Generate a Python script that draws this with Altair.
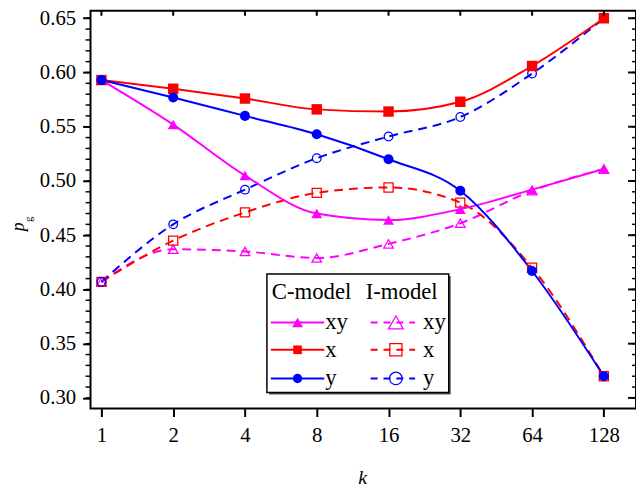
import altair as alt
import pandas as pd

# ---- data ----
k = [1, 2, 4, 8, 16, 32, 64, 128]
c_xy = [0.593, 0.552, 0.505, 0.470, 0.464, 0.474, 0.492, 0.511]
c_x = [0.593, 0.585, 0.576, 0.566, 0.564, 0.573, 0.606, 0.650]
c_y = [0.593, 0.577, 0.560, 0.543, 0.520, 0.491, 0.417, 0.320]
i_xy = [0.407, 0.437, 0.435, 0.429, 0.442, 0.461, 0.491, 0.511]
i_x = [0.407, 0.445, 0.471, 0.489, 0.494, 0.480, 0.420, 0.320]
i_y = [0.407, 0.460, 0.492, 0.521, 0.541, 0.559, 0.599, 0.650]
y_major = [0.30, 0.35, 0.40, 0.45, 0.50, 0.55, 0.60, 0.65]
y_minor = [round(0.30 + 0.01 * i, 2) for i in range(36)]

series_names = ["C-xy", "C-x", "C-y", "I-xy", "I-x", "I-y"]
series_vals = [c_xy, c_x, c_y, i_xy, i_x, i_y]

rows = []
for name, vals in zip(series_names, series_vals):
    for kk, v in zip(k, vals):
        rows.append({"k": kk, "v": v, "series": name, "model": name[0]})
df = pd.DataFrame(rows)

W, H = 552, 402.5
FONT = "Times New Roman, Liberation Serif, serif"
MAG, RED, BLUE = "#FF00FF", "#FF0000", "#0000FF"

xs = alt.Scale(type="log", base=2, domain=[0.9, 174.6])
ys = alt.Scale(domain=[0.29016, 0.65683])
color_scale = alt.Scale(domain=series_names, range=[MAG, RED, BLUE, MAG, RED, BLUE])
shape_scale = alt.Scale(domain=series_names,
                        range=["triangle-up", "square", "circle"] * 2)
size_scale = alt.Scale(domain=series_names, range=[121, 76, 90, 225, 151, 161])

X = alt.X("k:Q", scale=xs,
          axis=alt.Axis(values=k, format="d", tickSize=8, labelPadding=8,
                        title=None))
Y = alt.Y("v:Q", scale=ys,
          axis=alt.Axis(values=y_major, format=".2f", tickSize=8,
                        labelPadding=7, title=None))
COL = alt.Color("series:N", scale=color_scale, legend=None)
SHP = alt.Shape("series:N", scale=shape_scale, legend=None)
SZ = alt.Size("series:O", scale=size_scale, legend=None)

base = alt.Chart(df)
i_lines = base.transform_filter("datum.model == 'I'").mark_line(
    interpolate="monotone", strokeWidth=2, strokeDash=[9, 6]
).encode(x=X, y=Y, color=COL, detail="series:N")
c_lines = base.transform_filter("datum.model == 'C'").mark_line(
    interpolate="monotone", strokeWidth=2
).encode(x=X, y=Y, color=COL, detail="series:N")
i_pts = base.transform_filter("datum.model == 'I'").mark_point(
    filled=False, strokeWidth=1.3, opacity=1
).encode(x=X, y=Y, color=COL, shape=SHP, size=SZ)
c_pts = base.transform_filter("datum.model == 'C'").mark_point(
    filled=True, opacity=1
).encode(x=X, y=Y, color=COL, shape=SHP, size=SZ)

# ---- extra ticks (minor / mirrored inward) ----
minor_df = pd.DataFrame({"m": y_minor})
major_df = pd.DataFrame({"m": y_major})
kdf = pd.DataFrame({"k": k})
left_minor = alt.Chart(minor_df).mark_rule(color="black", strokeWidth=1.5).encode(
    y=alt.Y("m:Q", scale=ys), x=alt.value(-5), x2=alt.value(0))
right_minor = alt.Chart(minor_df).mark_rule(color="black", strokeWidth=1.5).encode(
    y=alt.Y("m:Q", scale=ys), x=alt.value(W - 4), x2=alt.value(W))
right_major = alt.Chart(major_df).mark_rule(color="black", strokeWidth=2).encode(
    y=alt.Y("m:Q", scale=ys), x=alt.value(W - 8), x2=alt.value(W))
top_major = alt.Chart(kdf).mark_rule(color="black", strokeWidth=2).encode(
    x=alt.X("k:Q", scale=xs), y=alt.value(0), y2=alt.value(5))

one = pd.DataFrame({"a": [0]})

# ---- axis titles ----
k_title = alt.Chart(one).mark_text(font=FONT, fontSize=20, fontStyle="italic",
                                   align="center", baseline="alphabetic",
                                   color="black").encode(
    x=alt.value(W / 2 - 0.5), y=alt.value(479), text=alt.value("k"))
p_title = alt.Chart(one).mark_text(font=FONT, fontSize=18, fontStyle="italic",
                                   align="center", baseline="alphabetic",
                                   angle=270, color="black").encode(
    x=alt.value(-67), y=alt.value(218.5), text=alt.value("p"))
g_title = alt.Chart(one).mark_text(font=FONT, fontSize=11,
                                   align="center", baseline="alphabetic",
                                   angle=270, color="black").encode(
    x=alt.value(-59.5), y=alt.value(211), text=alt.value("g"))

# ---- hand-made legend ----
LX1, LX2, LY1, LY2 = 178.5, 362.5, 266.3, 386.3
legend_layers = [
    alt.Chart(one).mark_rect(fill="#555555").encode(
        x=alt.value(LX1 + 2), x2=alt.value(LX2 + 2),
        y=alt.value(LY1 + 2), y2=alt.value(LY2 + 2)),
    alt.Chart(one).mark_rect(fill="white", stroke="black", strokeWidth=1.5).encode(
        x=alt.value(LX1), x2=alt.value(LX2), y=alt.value(LY1), y2=alt.value(LY2)),
    alt.Chart(one).mark_text(font=FONT, fontSize=23, align="left",
                             baseline="alphabetic", color="black").encode(
        x=alt.value(183.5), y=alt.value(292), text=alt.value("C-model")),
    alt.Chart(one).mark_text(font=FONT, fontSize=23, align="left",
                             baseline="alphabetic", color="black").encode(
        x=alt.value(278.5), y=alt.value(292), text=alt.value("I-model")),
]
row_y = [315.3, 343, 372]
labels = ["xy", "x", "y"]
colors = [MAG, RED, BLUE]
shapes = ["triangle-up", "square", "circle"]
c_sizes = [121, 76, 90]
i_sizes = [225, 151, 161]
for yy, lab, col, shp, cs, isz in zip(row_y, labels, colors, shapes, c_sizes, i_sizes):
    legend_layers += [
        alt.Chart(one).mark_rule(color=col, strokeWidth=2).encode(
            x=alt.value(182.5), x2=alt.value(236.5), y=alt.value(yy)),
        alt.Chart(one).mark_point(shape=shp, filled=True, size=cs, color=col,
                                  opacity=1).encode(
            x=alt.value(209.5), y=alt.value(yy)),
        alt.Chart(one).mark_text(font=FONT, fontSize=23, align="left",
                                 baseline="alphabetic", color="black").encode(
            x=alt.value(237.5), y=alt.value(yy + 7), text=alt.value(lab)),
        alt.Chart(one).mark_rule(color=col, strokeWidth=2, strokeDash=[7, 6]).encode(
            x=alt.value(283.5), x2=alt.value(328.5), y=alt.value(yy)),
        alt.Chart(one).mark_point(shape=shp, filled=False, size=isz, color=col,
                                  strokeWidth=1.3, opacity=1).encode(
            x=alt.value(309), y=alt.value(yy)),
        alt.Chart(one).mark_text(font=FONT, fontSize=23, align="left",
                                 baseline="alphabetic", color="black").encode(
            x=alt.value(336.5), y=alt.value(yy + 7), text=alt.value(lab)),
    ]

chart = alt.layer(
    i_lines, c_lines, i_pts, c_pts,
    left_minor, right_minor, right_major, top_major,
    k_title, p_title, g_title,
    *legend_layers
).properties(
    width=W, height=H,
    autosize=alt.AutoSizeParams(type="none"),
    padding={"left": 83.5, "top": 0, "right": 0, "bottom": 79},
).configure_view(
    stroke="black", strokeWidth=2
).configure_axis(
    labelFont=FONT, labelFontSize=21, labelColor="black",
    tickColor="black", tickWidth=2, domain=False, grid=False,
)

chart.save("out.html", embed_options={"renderer": "svg", "actions": False})
